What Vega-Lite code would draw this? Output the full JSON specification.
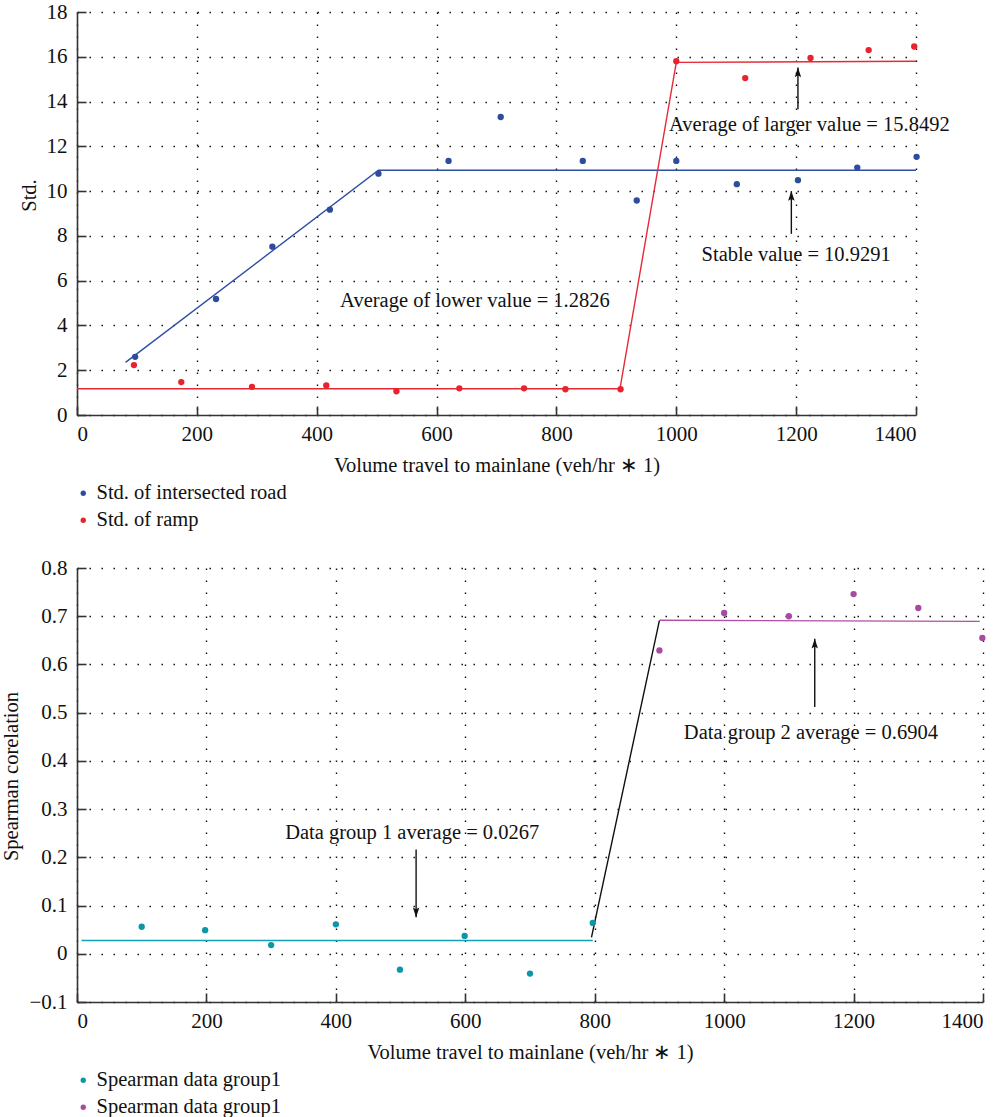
{
  "$schema": "https://vega.github.io/schema/vega-lite/v6.json",
  "padding": {"left": 1, "top": 1, "right": 5, "bottom": 0},
  "background": "white",
  "spacing": 26,
  "datasets": {
    "stdPts": [
      {"vol": 97, "std": 2.6, "series": "Std. of intersected road"},
      {"vol": 232, "std": 5.18, "series": "Std. of intersected road"},
      {"vol": 326, "std": 7.52, "series": "Std. of intersected road"},
      {"vol": 422, "std": 9.17, "series": "Std. of intersected road"},
      {"vol": 503, "std": 10.78, "series": "Std. of intersected road"},
      {"vol": 620, "std": 11.35, "series": "Std. of intersected road"},
      {"vol": 707, "std": 13.31, "series": "Std. of intersected road"},
      {"vol": 844, "std": 11.35, "series": "Std. of intersected road"},
      {"vol": 934, "std": 9.58, "series": "Std. of intersected road"},
      {"vol": 1000, "std": 11.35, "series": "Std. of intersected road"},
      {"vol": 1101, "std": 10.31, "series": "Std. of intersected road"},
      {"vol": 1203, "std": 10.49, "series": "Std. of intersected road"},
      {"vol": 1302, "std": 11.05, "series": "Std. of intersected road"},
      {"vol": 1401, "std": 11.53, "series": "Std. of intersected road"},
      {"vol": 95, "std": 2.23, "series": "Std. of ramp"},
      {"vol": 174, "std": 1.47, "series": "Std. of ramp"},
      {"vol": 292, "std": 1.26, "series": "Std. of ramp"},
      {"vol": 416, "std": 1.32, "series": "Std. of ramp"},
      {"vol": 533, "std": 1.06, "series": "Std. of ramp"},
      {"vol": 638, "std": 1.19, "series": "Std. of ramp"},
      {"vol": 746, "std": 1.19, "series": "Std. of ramp"},
      {"vol": 815, "std": 1.15, "series": "Std. of ramp"},
      {"vol": 907, "std": 1.15, "series": "Std. of ramp"},
      {"vol": 1000, "std": 15.8, "series": "Std. of ramp"},
      {"vol": 1115, "std": 15.05, "series": "Std. of ramp"},
      {"vol": 1224, "std": 15.95, "series": "Std. of ramp"},
      {"vol": 1321, "std": 16.3, "series": "Std. of ramp"},
      {"vol": 1397, "std": 16.46, "series": "Std. of ramp"}
    ],
    "blueLine": [
      {"vol": 81, "std": 2.35},
      {"vol": 503, "std": 10.93},
      {"vol": 1400, "std": 10.93}
    ],
    "redLine": [
      {"vol": 0, "std": 1.17},
      {"vol": 906, "std": 1.17},
      {"vol": 1000, "std": 15.75},
      {"vol": 1400, "std": 15.8}
    ],
    "topText": [
      {"vol": 664, "std": 5.11, "label": "Average of lower value = 1.2826"},
      {"vol": 1222, "std": 12.95, "label": "Average of larger value = 15.8492"},
      {"vol": 1200, "std": 7.13, "label": "Stable value = 10.9291"}
    ],
    "topArrows": [
      {"vol": 1203, "base": 13.66, "tip": 15.52},
      {"vol": 1192, "base": 8.09, "tip": 10.0}
    ],
    "spPts": [
      {"vol": 100, "corr": 0.056, "series": "Spearman data group1"},
      {"vol": 198, "corr": 0.049, "series": "Spearman data group1"},
      {"vol": 300, "corr": 0.018, "series": "Spearman data group1"},
      {"vol": 400, "corr": 0.061, "series": "Spearman data group1"},
      {"vol": 499, "corr": -0.033, "series": "Spearman data group1"},
      {"vol": 599, "corr": 0.037, "series": "Spearman data group1"},
      {"vol": 700, "corr": -0.041, "series": "Spearman data group1"},
      {"vol": 797, "corr": 0.064, "series": "Spearman data group1"},
      {"vol": 900, "corr": 0.629, "series": "Spearman data group2"},
      {"vol": 1000, "corr": 0.7067, "series": "Spearman data group2"},
      {"vol": 1100, "corr": 0.70, "series": "Spearman data group2"},
      {"vol": 1200, "corr": 0.746, "series": "Spearman data group2"},
      {"vol": 1300, "corr": 0.717, "series": "Spearman data group2"},
      {"vol": 1399, "corr": 0.655, "series": "Spearman data group2"}
    ],
    "tealLine": [
      {"vol": 7, "corr": 0.0276},
      {"vol": 797, "corr": 0.0276}
    ],
    "blackLine": [
      {"vol": 795, "corr": 0.034},
      {"vol": 900, "corr": 0.6915}
    ],
    "purpleLine": [
      {"vol": 900, "corr": 0.6915},
      {"vol": 1395, "corr": 0.6894}
    ],
    "botText": [
      {"vol": 518, "corr": 0.25, "label": "Data group 1 average = 0.0267"},
      {"vol": 1134, "corr": 0.4577, "label": "Data group 2 average = 0.6904"}
    ],
    "arrowDown": [
      {"vol": 524, "base": 0.216, "tip": 0.076}
    ],
    "arrowUp": [
      {"vol": 1140, "base": 0.512, "tip": 0.6535}
    ]
  },
  "config": {
    "font": "Liberation Serif",
    "view": {"stroke": null},
    "axis": {
      "grid": true,
      "gridColor": "#111",
      "gridDash": [1.5, 10.5],
      "gridWidth": 1.4,
      "domainColor": "#333",
      "domainWidth": 1.6,
      "tickColor": "#333",
      "tickWidth": 1.6,
      "tickSize": -9,
      "labelFont": "Liberation Serif",
      "labelFontSize": 21,
      "labelColor": "#111",
      "titleFont": "Liberation Serif",
      "titleFontSize": 20.5,
      "titleFontWeight": "normal",
      "titleColor": "#111"
    },
    "axisX": {"labelPadding": 17, "titlePadding": 11},
    "axisY": {"labelPadding": 19, "titlePadding": 7},
    "legend": {
      "labelFont": "Liberation Serif",
      "labelFontSize": 20.5,
      "labelColor": "#111",
      "labelLimit": 0,
      "symbolType": "circle",
      "symbolSize": 28,
      "symbolStrokeWidth": 0,
      "symbolOffset": -4,
      "rowPadding": 6,
      "labelOffset": 3,
      "padding": 0
    },
    "text": {"font": "Liberation Serif", "fontSize": 20.5, "color": "#111"}
  },
  "resolve": {"scale": {"color": "independent"}, "legend": {"color": "independent"}},
  "vconcat": [
    {
      "width": 839,
      "height": 403,
      "encoding": {
        "x": {"field": "vol", "type": "quantitative",
          "scale": {"domain": [0, 1400], "nice": false},
          "axis": {"values": [0, 200, 400, 600, 800, 1000, 1200, 1400], "format": "d", "title": "Volume travel to mainlane (veh/hr \u2217 1)"}}
      },
      "layer": [
        {
          "data": {"name": "blueLine"},
          "mark": {"type": "line", "color": "#2f4fa3", "strokeWidth": 1.4},
          "encoding": {"y": {"field": "std", "type": "quantitative", "scale": {"domain": [0, 18], "nice": false}, "axis": {"values": [0, 2, 4, 6, 8, 10, 12, 14, 16, 18], "title": "Std.", "titleY": 183}}}
        },
        {
          "data": {"name": "redLine"},
          "mark": {"type": "line", "color": "#e62a35", "strokeWidth": 1.4},
          "encoding": {"y": {"field": "std", "type": "quantitative"}}
        },
        {
          "data": {"name": "stdPts"},
          "mark": {"type": "point", "filled": true, "size": 40, "opacity": 1},
          "encoding": {
            "y": {"field": "std", "type": "quantitative"},
            "color": {"field": "series", "type": "nominal",
              "scale": {"domain": ["Std. of intersected road", "Std. of ramp"], "range": ["#2d4c9e", "#e8232e"]},
              "legend": {"title": null, "orient": "bottom", "direction": "vertical", "offset": 7}}
          }
        },
        {
          "data": {"name": "topText"},
          "mark": {"type": "text", "align": "center", "baseline": "middle"},
          "encoding": {"y": {"field": "std", "type": "quantitative"}, "text": {"field": "label"}}
        },
        {
          "data": {"name": "topArrows"},
          "mark": {"type": "rule", "color": "#111", "strokeWidth": 1.4},
          "encoding": {"y": {"field": "base", "type": "quantitative"}, "y2": {"field": "tip"}}
        },
        {
          "data": {"name": "topArrows"},
          "mark": {"type": "point", "shape": "M0,0 L0.5,1.5 L0,1.2 L-0.5,1.5 Z", "size": 169, "filled": true, "color": "#111", "opacity": 1},
          "encoding": {"y": {"field": "tip", "type": "quantitative"}}
        }
      ]
    },
    {
      "width": 906,
      "height": 434,
      "encoding": {
        "x": {"field": "vol", "type": "quantitative",
          "scale": {"domain": [0, 1400], "nice": false},
          "axis": {"values": [0, 200, 400, 600, 800, 1000, 1200, 1400], "format": "d", "title": "Volume travel to mainlane (veh/hr \u2217 1)"}}
      },
      "layer": [
        {
          "data": {"name": "tealLine"},
          "mark": {"type": "line", "color": "#12a2b5", "strokeWidth": 1.4},
          "encoding": {"y": {"field": "corr", "type": "quantitative", "scale": {"domain": [-0.1, 0.8], "nice": false, "zero": false}, "axis": {"values": [-0.1, 0, 0.1, 0.2, 0.3, 0.4, 0.5, 0.6, 0.7, 0.8], "format": ".1~f", "title": "Spearman corelation", "titleY": 208}}}
        },
        {
          "data": {"name": "blackLine"},
          "mark": {"type": "line", "color": "#111", "strokeWidth": 1.4},
          "encoding": {"y": {"field": "corr", "type": "quantitative"}}
        },
        {
          "data": {"name": "purpleLine"},
          "mark": {"type": "line", "color": "#b14ea6", "strokeWidth": 1.4},
          "encoding": {"y": {"field": "corr", "type": "quantitative"}}
        },
        {
          "data": {"name": "spPts"},
          "mark": {"type": "point", "filled": true, "size": 40, "opacity": 1},
          "encoding": {
            "y": {"field": "corr", "type": "quantitative"},
            "color": {"field": "series", "type": "nominal",
              "scale": {"domain": ["Spearman data group1", "Spearman data group2"], "range": ["#0b97a7", "#a64b9f"]},
              "legend": {"title": null, "orient": "bottom", "direction": "vertical", "offset": 7, "labelExpr": "'Spearman data group1'"}}
          }
        },
        {
          "data": {"name": "botText"},
          "mark": {"type": "text", "align": "center", "baseline": "middle"},
          "encoding": {"y": {"field": "corr", "type": "quantitative"}, "text": {"field": "label"}}
        },
        {
          "data": {"name": "arrowDown"},
          "mark": {"type": "rule", "color": "#111", "strokeWidth": 1.4},
          "encoding": {"y": {"field": "base", "type": "quantitative"}, "y2": {"field": "tip"}}
        },
        {
          "data": {"name": "arrowDown"},
          "mark": {"type": "point", "shape": "M0,0 L0.5,-1.5 L0,-1.2 L-0.5,-1.5 Z", "size": 169, "filled": true, "color": "#111", "opacity": 1},
          "encoding": {"y": {"field": "tip", "type": "quantitative"}}
        },
        {
          "data": {"name": "arrowUp"},
          "mark": {"type": "rule", "color": "#111", "strokeWidth": 1.4},
          "encoding": {"y": {"field": "base", "type": "quantitative"}, "y2": {"field": "tip"}}
        },
        {
          "data": {"name": "arrowUp"},
          "mark": {"type": "point", "shape": "M0,0 L0.5,1.5 L0,1.2 L-0.5,1.5 Z", "size": 169, "filled": true, "color": "#111", "opacity": 1},
          "encoding": {"y": {"field": "tip", "type": "quantitative"}}
        }
      ]
    }
  ]
}
